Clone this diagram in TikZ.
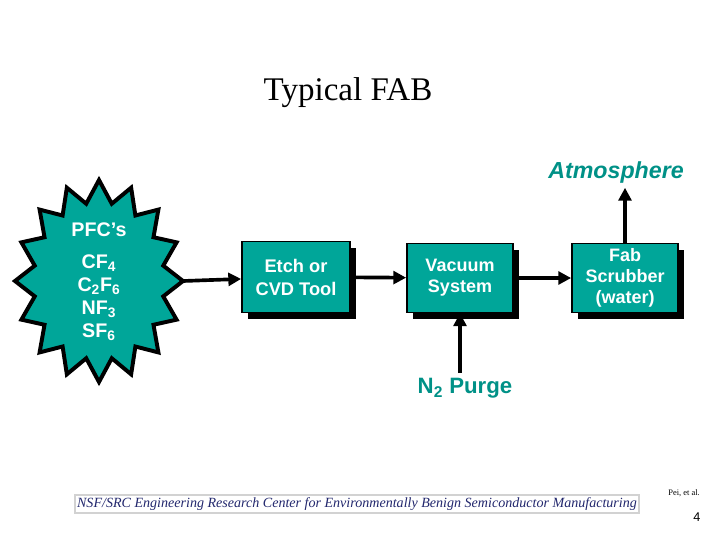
\documentclass[tikz,border=0pt]{standalone}
\usepackage{fontspec}
\setmainfont{Liberation Serif}
\setsansfont{Liberation Sans}
\usepackage{xcolor}
\usetikzlibrary{arrows.meta,shadows}
\definecolor{fabteal}{RGB}{0,166,153}
\definecolor{labelteal}{RGB}{0,145,135}
\definecolor{footnavy}{RGB}{35,40,110}

\begin{document}
\begin{tikzpicture}[
    x=0.025cm, y=-0.025cm,
    unitbox/.style={rectangle, draw=black, fill=fabteal, line width=1.2pt, align=center, minimum height=1.72cm, minimum width=2.65cm, text=white, font=\sffamily\bfseries\fontsize{12.8}{15}\selectfont, drop shadow={shadow xshift=0.16cm, shadow yshift=-0.17cm, fill=black, opacity=1}},
    flow/.style={-{Triangle[length=0.32cm, width=0.32cm]}, line width=2.6pt, draw=black},
    outlabel/.style={text=labelteal, font=\sffamily\bfseries\fontsize{15.8}{17}\selectfont}
]
    \useasboundingbox (0,0) rectangle (720,540);

    \node [font=\fontsize{23.5}{26}\selectfont] (title) at (348,93) {Typical FAB};

    % PFC starburst
    \draw [fill=fabteal, line width=2.8pt, line join=miter] (99,180)
        \foreach \k [evaluate=\k as \r using {1-0.22*mod(\k,2)}] in {1,...,31} {
            -- ({99+84*\r*cos(90+11.25*\k)},{281-101*\r*sin(90+11.25*\k)})
        } -- cycle;
    \node [align=center, text=white, font=\sffamily\bfseries\fontsize{14}{16.4}\selectfont] (pfc) at (99,282)
        {PFC’s\\[6pt]CF\textsubscript{4}\\C\textsubscript{2}F\textsubscript{6}\\NF\textsubscript{3}\\SF\textsubscript{6}};
    \coordinate (pfc tip) at (183,281);

    \node [unitbox, minimum width=2.7cm, minimum height=1.78cm, font=\sffamily\bfseries\fontsize{13}{16.4}\selectfont] (etch) at (296,277) {Etch or\\CVD Tool};
    \node [unitbox] (vacuum) at (460,278) {Vacuum\\System};
    \node [unitbox] (fab) at (625,278) {Fab\\Scrubber\\(water)};

    \node [outlabel, font=\sffamily\bfseries\itshape\fontsize{16.5}{18}\selectfont] (atm) at (616,172) {Atmosphere};
    \node [outlabel] (purge) at (465,388) {N\textsubscript{2} Purge};

    \draw [flow] (pfc tip) -- (etch);
    \draw [flow] (etch) -- (vacuum);
    \draw [flow] (vacuum) -- (fab);
    \draw [flow] (fab.north) -- (fab.north |- atm.south);
    \draw [flow] (vacuum.south |- purge.north) -- (vacuum.south);

    % footer
    \node [draw=gray!35, line width=1.5pt, fill=white, inner sep=1.5pt, text=footnavy, font=\itshape\fontsize{10}{12}\selectfont] (footer) at (357,504)
        {NSF/SRC Engineering Research Center for Environmentally Benign Semiconductor Manufacturing};
    \node [font=\fontsize{6}{7}\selectfont] (credit) at (684,493) {Pei, et al.};
    \node [font=\sffamily\fontsize{9}{10}\selectfont] (page) at (697,517) {4};
\end{tikzpicture}
\end{document}
